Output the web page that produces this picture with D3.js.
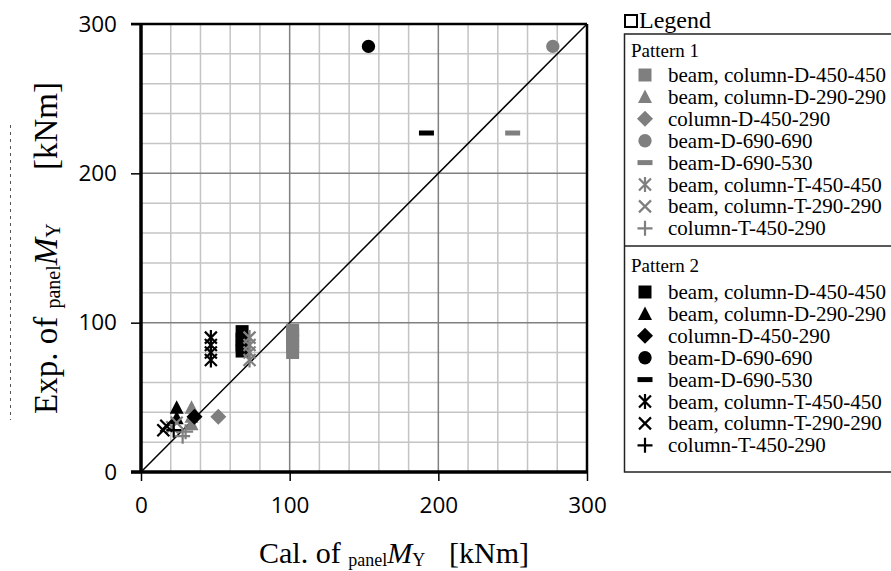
<!DOCTYPE html>
<html><head><meta charset="utf-8">
<script src="https://cdn.jsdelivr.net/npm/d3@7"></script>
<style>
html,body{margin:0;padding:0;background:#fff;}
svg{display:block;}
</style></head>
<body>
<svg id="c" width="891" height="571"></svg>
<script>
// ---- data ----
const seriesNames = ["beam, column-D-450-450","beam, column-D-290-290","column-D-450-290","beam-D-690-690","beam-D-690-530","beam, column-T-450-450","beam, column-T-290-290","column-T-450-290"];
const seriesShapes = ["square","triangle","diamond","circle","dash","asterisk","cross","plus"];
const patternNames = ["Pattern 1","Pattern 2"];
const patternColors = ["#7f7f7f","#000000"];
// Pattern 1 (gray)
const p1Cal = [[102,102,102,102,102],[34,34,34],[52],[277],[250],[73,73,73,73],[21,24],[28,30]];
const p1Exp = [[80,84,88,92,95],[32,37,43],[37],[285],[227],[75,80,85,90],[30,33],[24,27]];
// Pattern 2 (black)
const p2Cal = [[68,68,68,68],[24,24],[36],[153],[192],[47,47,47,47],[15,17],[22]];
const p2Exp = [[81,85,89,94],[36,43],[37],[285],[227],[75,80,85,90],[28,31],[28]];
const axisTicks = [0,100,200,300];
const gridTicks = [20,40,60,80,120,140,160,180,220,240,260,280];

const svg = d3.select("#c");
const x = d3.scaleLinear().domain([0,300]).range([141,587]);
const y = d3.scaleLinear().domain([0,300]).range([472,24]);

// grid
const g = svg.append("g");
g.selectAll(".gx").data(gridTicks).join("line")
  .attr("x1",d=>x(d)).attr("x2",d=>x(d)).attr("y1",y(0)).attr("y2",y(300))
  .attr("stroke","#c4c4c4").attr("stroke-width",1.5);
g.selectAll(".gy").data(gridTicks).join("line")
  .attr("y1",d=>y(d)).attr("y2",d=>y(d)).attr("x1",x(0)).attr("x2",x(300))
  .attr("stroke","#c4c4c4").attr("stroke-width",1.5);
g.selectAll(".mx").data([100,200]).join("line")
  .attr("x1",d=>x(d)).attr("x2",d=>x(d)).attr("y1",y(0)).attr("y2",y(300))
  .attr("stroke","#808080").attr("stroke-width",1.5);
g.selectAll(".my").data([100,200]).join("line")
  .attr("y1",d=>y(d)).attr("y2",d=>y(d)).attr("x1",x(0)).attr("x2",x(300))
  .attr("stroke","#808080").attr("stroke-width",1.5);

// diagonal
svg.append("line").attr("x1",x(0)).attr("y1",y(0)).attr("x2",x(300)).attr("y2",y(300))
  .attr("stroke","#000").attr("stroke-width",1.5);

// frame
svg.append("line").attr("x1",x(0)-10).attr("x2",x(300)).attr("y1",y(300)).attr("y2",y(300)).attr("stroke","#000").attr("stroke-width",2.5);
svg.append("line").attr("x1",x(300)).attr("x2",x(300)).attr("y1",y(300)).attr("y2",y(0)).attr("stroke","#000").attr("stroke-width",2.5);

// axes
const fontTick = "'Open Sans', sans-serif";
const yAxis = svg.append("g").attr("transform",`translate(${x(0)},0)`)
  .call(d3.axisLeft(y).tickValues(axisTicks).tickSize(10).tickPadding(14).tickFormat(d3.format("d")));
const xAxis = svg.append("g").attr("transform",`translate(0,${y(0)})`)
  .call(d3.axisBottom(x).tickValues(axisTicks).tickSize(9).tickPadding(16).tickFormat(d3.format("d")));
[xAxis,yAxis].forEach(a=>{
  a.select(".domain").attr("stroke","#000").attr("stroke-width",3.5);
  a.selectAll(".tick line").attr("stroke","#000").attr("stroke-width",1.5);
  a.selectAll(".tick text").attr("fill","#000").style("font-family",fontTick).style("font-size","22.5px");
});
yAxis.select(".domain").attr("d",`M0,${y(0)}V${y(300)}`);
xAxis.select(".domain").attr("d",`M${x(0)-10},0H${x(300)}`);

// marker shapes
function shapePath(type){
  switch(type){
    case "square": return "M-6.5,-6.5h13v13h-13Z";
    case "triangle": return "M0,-7.5L7,6L-7,6Z";
    case "diamond": return "M0,-8L8,0L0,8L-8,0Z";
    case "circle": return d3.symbol(d3.symbolCircle, 140)();
    case "dash": return "M-7.5,-2.5h15v5h-15Z";
    case "asterisk": return "M0,-7.5V7.5M-6,-6L6,6M-6,6L6,-6";
    case "cross": return "M-6,-6L6,6M-6,6L6,-6";
    case "plus": return "M0,-7.5V7.5M-7.5,0H7.5";
  }
}
const stroked = t => (t==="asterisk"||t==="cross"||t==="plus");
function drawMark(sel, type, color){
  sel.append("path").attr("d",shapePath(type))
    .attr("fill", stroked(type)?"none":color)
    .attr("stroke", stroked(type)?color:"none")
    .attr("stroke-width", stroked(type)?2.2:0);
}

// points
const pats = [[p1Cal,p1Exp],[p2Cal,p2Exp]];
const pts = svg.append("g");
seriesNames.forEach((nm,si)=>{
  pats.forEach((p,pi)=>{
    p[0][si].forEach((cv,k)=>{
      const ev = p[1][si][k];
      const gg = pts.append("g").attr("transform",`translate(${x(cv)},${y(ev)})`);
      drawMark(gg, seriesShapes[si], patternColors[pi]);
    });
  });
});

// axis titles
const serif = "'Liberation Serif','Times New Roman',serif";
const xt = svg.append("text").attr("x",259).attr("y",563).style("font-family",serif).style("font-size","30px").attr("fill","#000");
xt.append("tspan").text("Cal. of ");
xt.append("tspan").text("panel").style("font-size","18px").attr("dy",3);
xt.append("tspan").text("M").style("font-style","italic").attr("dy",-3);
xt.append("tspan").text("Y").style("font-size","18px").attr("dy",3);
xt.append("tspan").text("[kNm]").attr("x",449).attr("dy",-3);

const yt = svg.append("text").attr("transform","translate(57,414) rotate(-90)").style("font-family",serif).style("font-size","33px").attr("fill","#000");
yt.append("tspan").text("Exp. of ");
yt.append("tspan").text("panel").style("font-size","20px").attr("dy",3);
yt.append("tspan").text("M").style("font-style","italic").attr("dy",-3);
yt.append("tspan").text("Y").style("font-size","20px").attr("dy",3);
yt.append("tspan").text("[kNm]").attr("x",244).attr("dy",-3);

// stray dashed line at far left
svg.append("line").attr("x1",10.5).attr("x2",10.5).attr("y1",125).attr("y2",420)
  .attr("stroke","#555").attr("stroke-width",1).attr("stroke-dasharray","3,4");

// legend
const lg = svg.append("g");
lg.append("rect").attr("x",625).attr("y",15).attr("width",12).attr("height",12).attr("fill","none").attr("stroke","#000").attr("stroke-width",2);
lg.append("text").attr("x",639).attr("y",28).text("Legend").style("font-family",serif).style("font-size","24px");
lg.append("rect").attr("x",624.5).attr("y",34).attr("width",300).attr("height",438).attr("fill","none").attr("stroke","#222").attr("stroke-width",1.5);
lg.append("line").attr("x1",624.5).attr("x2",900).attr("y1",246).attr("y2",246).attr("stroke","#222").attr("stroke-width",1.5);
const patLabelY = [57,272];
const rowStart = [75,292];
patternNames.forEach((pn,pi)=>{
  lg.append("text").attr("x",631).attr("y",patLabelY[pi]).text(pn).style("font-family",serif).style("font-size","19px");
  seriesNames.forEach((nm,si)=>{
    const cy = rowStart[pi] + si*21.9;
    const mg = lg.append("g").attr("transform",`translate(645,${cy})`);
    drawMark(mg, seriesShapes[si], patternColors[pi]);
    lg.append("text").attr("x",668).attr("y",cy+7).text(nm).style("font-family",serif).style("font-size","21px");
  });
});
</script>
</body></html>
